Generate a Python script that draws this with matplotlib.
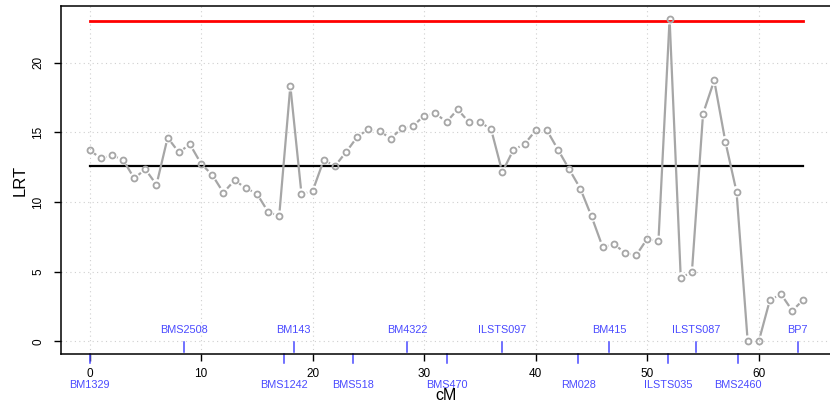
import numpy as np
import matplotlib
matplotlib.use("Agg")
import matplotlib.pyplot as plt

plt.rcParams['font.family'] = ['Liberation Sans', 'DejaVu Sans']

# LRT profile along the chromosome (1 cM steps)
positions = list(range(0, 65))
lrt = [13.73, 13.14, 13.35, 13.04, 11.70, 12.35, 11.24, 14.62, 13.57, 14.14,
       12.75, 11.94, 10.67, 11.56, 11.00, 10.60, 9.30, 8.99, 18.33, 10.57,
       10.79, 13.02, 12.58, 13.59, 14.67, 15.24, 15.10, 14.55, 15.31, 15.46,
       16.20, 16.37, 15.74, 16.65, 15.74, 15.74, 15.22, 12.15, 13.75, 14.16,
       15.15, 15.15, 13.75, 12.35, 10.96, 8.97, 6.77, 6.98, 6.36, 6.17,
       7.37, 7.18, 23.14, 4.57, 4.97, 16.34, 18.73, 14.33, 10.74, 0.02,
       0.02, 2.99, 3.37, 2.20, 2.99]

# Significance thresholds
threshold_genome = 23.01
threshold_chrom = 12.58

# Marker map
marker_names = ["BM1329", "BMS2508", "BMS1242", "BM143", "BMS518", "BM4322",
                "BMS470", "ILSTS097", "RM028", "BM415", "ILSTS035", "ILSTS087",
                "BMS2460", "BP7"]
marker_pos = [0.0, 8.5, 17.4, 18.3, 23.6, 28.5, 32.0, 37.0, 43.8, 46.6,
              51.9, 54.4, 58.1, 63.5]

x_ticks = [0, 10, 20, 30, 40, 50, 60]
y_ticks = [0, 5, 10, 15, 20]

W, H = 830, 403
fig = plt.figure(figsize=(W / 100, H / 100), dpi=100)
ax_h = 354 - 6
ax_w = 832 - 61
ax = fig.add_axes([61 / W, 49 / H, ax_w / W, ax_h / H])
ax.set_xlim(-2.56, 66.56)
ax.set_ylim(-0.91, 24.07)

ax.spines["right"].set_visible(False)
for s in ("left", "bottom", "top"):
    ax.spines[s].set_linewidth(1.1)
    ax.spines[s].set_color("black")

# dotted reference grid
for xv in x_ticks:
    ax.axvline(xv, color="#cfcfcf", lw=0.8, ls=(0, (1, 3)), zorder=0)
for yv in y_ticks:
    ax.axhline(yv, color="#cfcfcf", lw=0.8, ls=(0, (1, 3)), zorder=0)

ax.set_xticks(x_ticks)
ax.set_yticks(y_ticks)
ax.tick_params(axis="x", length=5, width=1, labelsize=8.5, pad=5, colors="black")
ax.tick_params(axis="y", length=5, width=1, labelsize=8.5, pad=7, colors="black")
for lab in ax.get_yticklabels():
    lab.set_rotation(90)
    lab.set_va("center")

# threshold lines
x0, x1 = positions[0], positions[-1]
ax.plot([x0, x1], [threshold_genome, threshold_genome], color="#ff0000", lw=2.0, zorder=2)
ax.plot([x0, x1], [threshold_chrom, threshold_chrom], color="black", lw=1.6, zorder=2)

# profile drawn as points joined by lines with a gap around each point
gray = "#a6a6a6"
gap = 5.6  # pixels
trans = ax.transData
pix = trans.transform(np.column_stack([positions, lrt]))
inv = trans.inverted()
for i in range(len(pix) - 1):
    p, q = pix[i], pix[i + 1]
    d = q - p
    L = np.hypot(*d)
    if L <= 2 * gap:
        continue
    u = d / L
    a = inv.transform(p + u * gap)
    b = inv.transform(q - u * gap)
    ax.plot([a[0], b[0]], [a[1], b[1]], color=gray, lw=1.6, zorder=3,
            solid_capstyle="butt")
ax.plot(positions, lrt, ls="none", marker="o", ms=4.3, mfc="none", mec=gray,
        mew=1.3, zorder=4, clip_on=False)

# marker map along the axis, alternating above / below
blue = "#4a4aff"
for k, (name, pos) in enumerate(zip(marker_names, marker_pos)):
    if k % 2 == 1:
        ax.plot([pos, pos], [-0.08, -0.75], color=blue, lw=1.1, zorder=3)
        ax.text(pos, 0.8, name, color=blue, fontsize=7.8, ha="center", va="center")
    else:
        ax.plot([pos, pos], [-0.91, -1.55], color=blue, lw=1.1, clip_on=False)
        ax.text(pos, -3.15, name, color=blue, fontsize=7.8, ha="center", va="center",
                clip_on=False)

ax.set_xlabel("cM", fontsize=11.5, va="center")
ax.xaxis.set_label_coords(0.5, -42 / ax_h)
ax.set_ylabel("LRT", fontsize=12, va="center")
ax.yaxis.set_label_coords(-41 / ax_w, 0.5)

fig.savefig("out.png", dpi=100)
